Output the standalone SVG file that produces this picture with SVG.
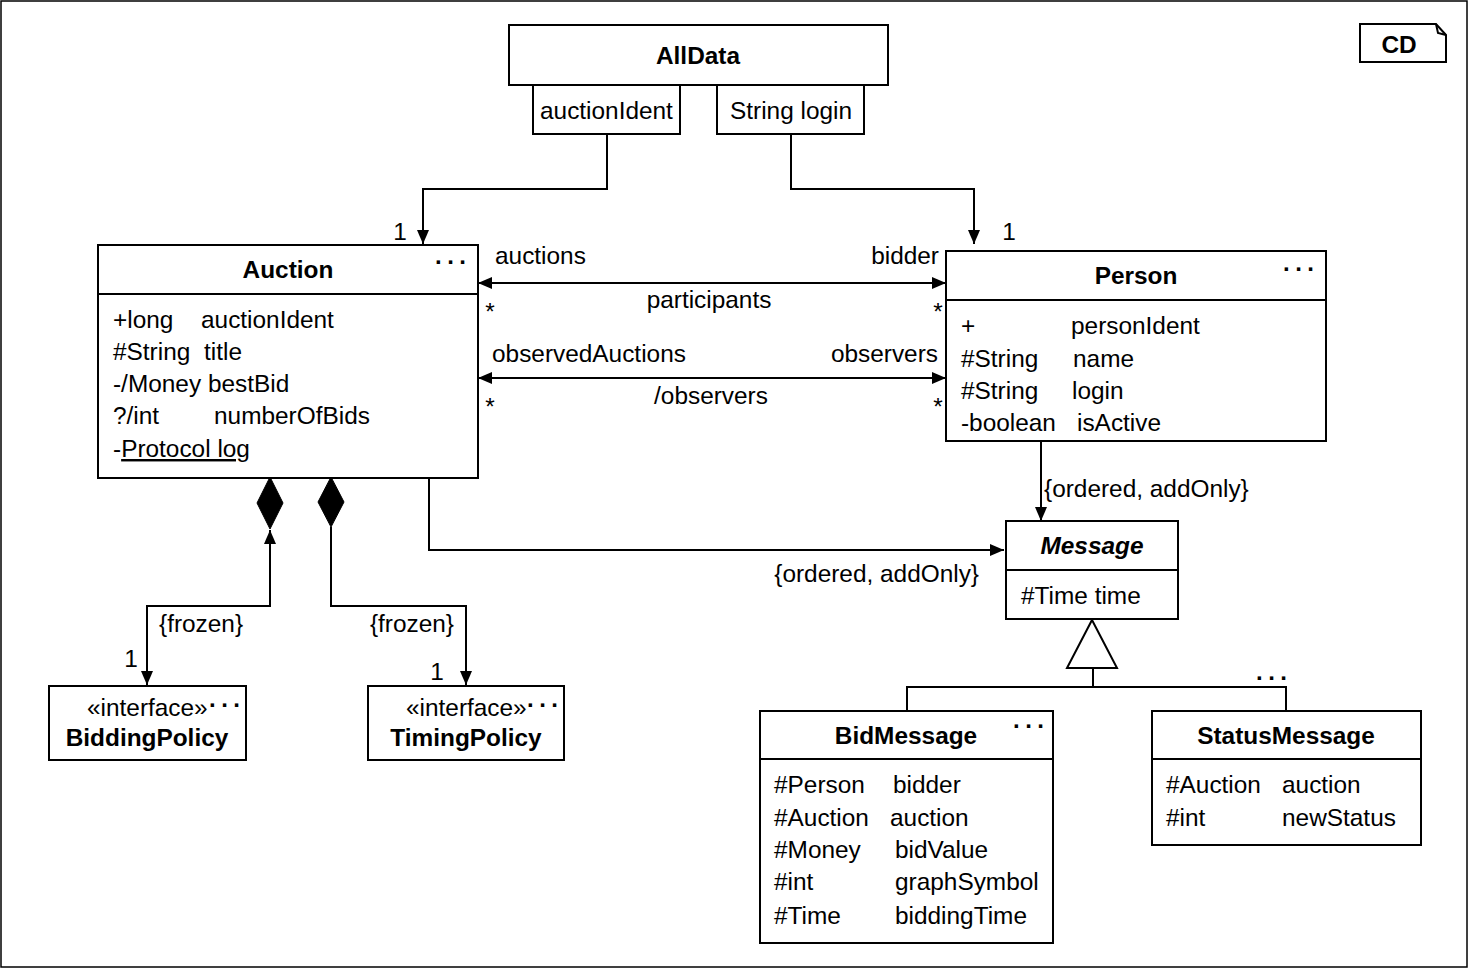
<svg xmlns="http://www.w3.org/2000/svg" width="1470" height="971" viewBox="0 0 1470 971">
<style>
.box{fill:#fff;stroke:#000;stroke-width:2}
.ln{fill:none;stroke:#000;stroke-width:2}
text{font-family:"Liberation Sans",Arial,Helvetica,sans-serif;font-size:24.4px;fill:#000}
.b{font-weight:bold}
.c{text-anchor:middle}
.e{text-anchor:end}
.dots{letter-spacing:5.5px;font-weight:bold;font-size:24px}
</style>
<defs>
<marker id="arr" markerUnits="userSpaceOnUse" markerWidth="15" markerHeight="13" refX="14" refY="6.5" orient="auto-start-reverse" viewBox="0 0 15 13">
<path d="M0,0.5 L14,6.5 L0,12.5 z" fill="#000"/>
</marker>
</defs>
<rect x="1" y="1" width="1466" height="966" fill="#fff" stroke="#000" stroke-width="1.5"/>

<g id="cd-note">
<path class="box" d="M1360,24 H1436 L1446,35 V62 H1360 Z"/>
<path class="ln" d="M1436,24 L1438,33 L1446,35" stroke-width="1.5"/>
<text x="1399" y="53" class="b c">CD</text>
</g>

<g id="connectors">
<polyline class="ln" points="607,134 607,189 423,189 423,244" marker-end="url(#arr)"/>
<polyline class="ln" points="791,134 791,189 974,189 974,244" marker-end="url(#arr)"/>
<line class="ln" x1="478" y1="283" x2="946" y2="283" marker-start="url(#arr)" marker-end="url(#arr)"/>
<line class="ln" x1="478" y1="378" x2="946" y2="378" marker-start="url(#arr)" marker-end="url(#arr)"/>
<line class="ln" x1="1041" y1="441" x2="1041" y2="521" marker-end="url(#arr)"/>
<polyline class="ln" points="429,478 429,550 1004,550" marker-end="url(#arr)"/>
<polygon points="270,477 283,503 270,529 257,503" fill="#000" stroke="#000" stroke-width="1"/>
<polyline class="ln" points="147,685 147,606 270,606 270,530" marker-start="url(#arr)" marker-end="url(#arr)"/>
<polygon points="331,477 344,502 331,527 318,502" fill="#000" stroke="#000" stroke-width="1"/>
<polyline class="ln" points="331,527 331,606 466,606 466,685" marker-end="url(#arr)"/>
<polygon points="1092,620 1117,668 1067,668" fill="#fff" stroke="#000" stroke-width="2"/>
<line class="ln" x1="1093" y1="668" x2="1093" y2="687"/>
<polyline class="ln" points="907,711 907,687 1286,687 1286,711"/>
<text x="400" y="240" class="c">1</text>
<text x="1009" y="240" class="c">1</text>
<text x="495" y="264">auctions</text>
<text x="939" y="264" class="e">bidder</text>
<text x="709" y="308" class="c">participants</text>
<text x="490" y="320" class="c">*</text>
<text x="938" y="320" class="c">*</text>
<text x="492" y="362">observedAuctions</text>
<text x="938" y="362" class="e">observers</text>
<text x="711" y="404" class="c">/observers</text>
<text x="490" y="415" class="c">*</text>
<text x="938" y="415" class="c">*</text>
<text x="1044" y="497">{ordered, addOnly}</text>
<text x="979" y="582" class="e">{ordered, addOnly}</text>
<text x="159" y="632">{frozen}</text>
<text x="454" y="632" class="e">{frozen}</text>
<text x="131" y="667" class="c">1</text>
<text x="437" y="680" class="c">1</text>
<text x="1256" y="680" class="dots">...</text>
</g>

<g id="alldata">
<rect class="box" x="509" y="25" width="379" height="60"/>
<text x="698" y="64" class="b c">AllData</text>
<rect class="box" x="533" y="85" width="147" height="49"/>
<text x="540" y="119">auctionIdent</text>
<rect class="box" x="717" y="85" width="147" height="49"/>
<text x="730" y="119">String login</text>
</g>

<g id="auction">
<rect class="box" x="98" y="245" width="380" height="233"/>
<line class="ln" x1="98" y1="294" x2="478" y2="294"/>
<text x="288" y="278" class="b c">Auction</text>
<text x="435" y="264" class="dots">...</text>
<text x="113" y="328">+long</text><text x="201" y="328">auctionIdent</text>
<text x="113" y="360">#String</text><text x="204" y="360">title</text>
<text x="113" y="392">-/Money bestBid</text>
<text x="113" y="424">?/int</text><text x="214" y="424">numberOfBids</text>
<text x="113" y="457">-<tspan text-decoration="underline">Protocol log</tspan></text>
</g>

<g id="person">
<rect class="box" x="946" y="251" width="380" height="190"/>
<line class="ln" x1="946" y1="300" x2="1326" y2="300"/>
<text x="1136" y="284" class="b c">Person</text>
<text x="1283" y="271" class="dots">...</text>
<text x="961" y="334">+</text><text x="1071" y="334">personIdent</text>
<text x="961" y="367">#String</text><text x="1073" y="367">name</text>
<text x="961" y="399">#String</text><text x="1072" y="399">login</text>
<text x="961" y="431">-boolean</text><text x="1077" y="431">isActive</text>
</g>

<g id="message">
<rect class="box" x="1006" y="521" width="172" height="98"/>
<line class="ln" x1="1006" y1="570" x2="1178" y2="570"/>
<text x="1092" y="554" class="b c" font-style="italic">Message</text>
<text x="1021" y="604">#Time time</text>
</g>

<g id="biddingpolicy">
<rect class="box" x="49" y="686" width="197" height="74"/>
<text x="87" y="716">«interface»</text>
<text x="209" y="707" class="dots">...</text>
<text x="147" y="746" class="b c">BiddingPolicy</text>
</g>

<g id="timingpolicy">
<rect class="box" x="368" y="686" width="196" height="74"/>
<text x="406" y="716">«interface»</text>
<text x="527" y="707" class="dots">...</text>
<text x="466" y="746" class="b c">TimingPolicy</text>
</g>

<g id="bidmessage">
<rect class="box" x="760" y="711" width="293" height="232"/>
<line class="ln" x1="760" y1="759" x2="1053" y2="759"/>
<text x="906" y="744" class="b c">BidMessage</text>
<text x="1013" y="728" class="dots">...</text>
<text x="774" y="793">#Person</text><text x="893" y="793">bidder</text>
<text x="774" y="826">#Auction</text><text x="890" y="826">auction</text>
<text x="774" y="858">#Money</text><text x="895" y="858">bidValue</text>
<text x="774" y="890">#int</text><text x="895" y="890">graphSymbol</text>
<text x="774" y="924">#Time</text><text x="895" y="924">biddingTime</text>
</g>

<g id="statusmessage">
<rect class="box" x="1152" y="711" width="269" height="134"/>
<line class="ln" x1="1152" y1="759" x2="1421" y2="759"/>
<text x="1286" y="744" class="b c">StatusMessage</text>
<text x="1166" y="793">#Auction</text><text x="1282" y="793">auction</text>
<text x="1166" y="826">#int</text><text x="1282" y="826">newStatus</text>
</g>
</svg>
